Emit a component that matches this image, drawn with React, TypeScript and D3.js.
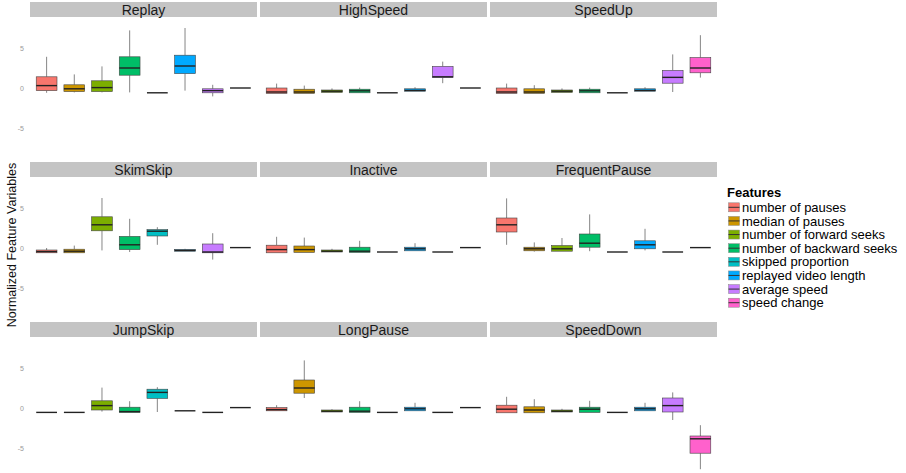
import React from "react";
import * as d3 from "d3";

const features = [
  "number of pauses",
  "median of pauses",
  "number of forward seeks",
  "number of backward seeks",
  "skipped proportion",
  "replayed video length",
  "average speed",
  "speed change",
];
const colors = ["#F8766D", "#CD9600", "#7CAE00", "#00BE67", "#00BFC4", "#00A9FF", "#C77CFF", "#FF61CC"];
const panels = ["Replay", "HighSpeed", "SpeedUp", "SkimSkip", "Inactive", "FrequentPause", "JumpSkip", "LongPause", "SpeedDown"];
const yTicks = [-5, 0, 5];

// [low, q1, median, q3, high]
const replay = [
  [-0.6, -0.33, 0.3, 1.4, 3.9], [-0.55, -0.45, -0.1, 0.4, 1.7], [-0.55, -0.45, 0.05, 0.9, 2.7], [-0.55, 1.6, 2.5, 3.9, 7.2],
  [-0.6, -0.6, -0.6, -0.6, -0.6], [-0.33, 1.8, 2.75, 4.1, 7.5], [-1.05, -0.6, -0.33, -0.1, 0.4], [0, 0, 0, 0, 0],
];
const highSpeed = [
  [-0.67, -0.67, -0.5, 0, 0.55], [-0.67, -0.67, -0.5, -0.15, 0.3], [-0.55, -0.55, -0.4, -0.25, -0.05], [-0.6, -0.6, -0.35, -0.15, 0.05],
  [-0.6, -0.6, -0.6, -0.6, -0.6], [-0.4, -0.4, -0.3, -0.1, 0.1], [0.6, 1.3, 1.4, 2.7, 3.3], [0, 0, 0, 0, 0],
];
const speedUp = [
  [-0.67, -0.67, -0.5, 0, 0.55], [-0.67, -0.67, -0.5, -0.1, 0.35], [-0.55, -0.55, -0.4, -0.25, -0.05], [-0.6, -0.6, -0.35, -0.15, 0.05],
  [-0.6, -0.6, -0.6, -0.6, -0.6], [-0.4, -0.4, -0.3, -0.1, 0.1], [-0.5, 0.6, 1.33, 2.2, 4.2], [1.3, 1.9, 2.5, 3.8, 6.6],
];
const skimSkip = [
  [-0.6, -0.6, -0.45, -0.25, 0], [-0.6, -0.6, -0.4, -0.15, 0.3], [-0.3, 2.15, 2.9, 3.9, 6.25], [-0.5, -0.2, 0.4, 1.45, 3.65],
  [0.4, 1.5, 2.1, 2.3, 2.6], [-0.4, -0.4, -0.3, -0.2, -0.1], [-1.45, -0.6, -0.5, 0.5, 1.85], [0.05, 0.05, 0.05, 0.05, 0.05],
];
const inactive = [
  [-0.6, -0.6, -0.2, 0.35, 1.4], [-0.55, -0.55, -0.2, 0.25, 1.3], [-0.5, -0.5, -0.4, -0.25, -0.1], [-0.55, -0.55, -0.4, 0.1, 0.9],
  [-0.5, -0.5, -0.5, -0.5, -0.5], [-0.35, -0.35, -0.1, 0.1, 0.6], [-0.5, -0.5, -0.5, -0.5, -0.5], [0.05, 0.05, 0.05, 0.05, 0.05],
];
const frequentPause = [
  [0.4, 2.0, 2.9, 3.75, 6.2], [-0.45, -0.35, -0.1, 0.1, 0.7], [-0.4, -0.4, -0.1, 0.3, 1.25], [-0.4, 0.1, 0.6, 1.75, 4.2],
  [-0.5, -0.5, -0.5, -0.5, -0.5], [-0.3, -0.1, 0.4, 0.9, 2.4], [-0.5, -0.5, -0.5, -0.5, -0.5], [0.05, 0.05, 0.05, 0.05, 0.05],
];
const jumpSkip = [
  [-0.55, -0.55, -0.55, -0.55, -0.55], [-0.55, -0.55, -0.55, -0.55, -0.55], [-0.45, -0.25, 0.3, 0.9, 2.55], [-0.55, -0.55, -0.45, 0.1, 0.85],
  [-0.5, 1.2, 1.95, 2.35, 2.6], [-0.35, -0.35, -0.35, -0.35, -0.35], [-0.55, -0.55, -0.55, -0.55, -0.55], [0.05, 0.05, 0.05, 0.05, 0.05],
];
const longPause = [
  [-0.35, -0.35, -0.2, 0.05, 0.35], [1.25, 1.85, 2.5, 3.5, 5.95], [-0.5, -0.5, -0.4, -0.25, -0.15], [-0.55, -0.55, -0.4, 0.1, 0.85],
  [-0.55, -0.55, -0.55, -0.55, -0.55], [-0.35, -0.35, -0.1, 0.1, 0.65], [-0.55, -0.55, -0.55, -0.55, -0.55], [0.05, 0.05, 0.05, 0.05, 0.05],
];
const speedDown = [
  [-0.6, -0.6, -0.15, 0.35, 1.4], [-0.6, -0.6, -0.25, 0.15, 1.1], [-0.5, -0.5, -0.4, -0.25, -0.1], [-0.55, -0.55, -0.15, 0.1, 0.9],
  [-0.55, -0.55, -0.55, -0.55, -0.55], [-0.35, -0.35, -0.1, 0.1, 0.65], [-1.5, -0.5, 0.3, 1.25, 1.95], [-7.65, -5.65, -3.85, -3.5, -2.15],
];
const panelData = [replay, highSpeed, speedUp, skimSkip, inactive, frequentPause, jumpSkip, longPause, speedDown];

const W = 906;
const H = 473;
const panelLeft = 30;
const panelW = 227;
const colGap = 3;
const rowPitch = 160;
const stripTop = 2;
const stripH = 15;
const panelH = 138;
const font = "'Liberation Sans', Arial, sans-serif";

export default function App() {
  const x = d3.scaleLinear().domain([0.4, 8.6]).range([0, panelW]);
  const y = d3.scaleLinear().domain([-8.375, 8.875]).range([panelH, 0]);
  const bw = (x(1.75) - x(1)) ;

  return (
    <svg width={W} height={H} style={{ display: "block", position: "absolute", left: 0, top: 0, background: "#fff" }} fontFamily={font}>
      {panels.map((name, p) => {
        const col = p % 3;
        const row = Math.floor(p / 3);
        const px = panelLeft + col * (panelW + colGap);
        const sy = stripTop + row * rowPitch;
        const py = sy + stripH;
        const data = panelData[p];
        return (
          <g key={name}>
            <rect x={px} y={sy} width={panelW} height={stripH} fill="#C4C4C4" />
            <text x={px + panelW / 2} y={sy + stripH / 2 + 5} textAnchor="middle" fontSize={14} fill="#1a1a1a">{name}</text>
            <g transform={`translate(${px},${py})`}>
              {data.map((d, i) => {
                const [lo, q1, med, q3, hi] = d;
                const cx = x(i + 1);
                return (
                  <g key={i}>
                    <line x1={cx} x2={cx} y1={y(hi)} y2={y(q3)} stroke="#666" strokeWidth={0.8} />
                    <line x1={cx} x2={cx} y1={y(q1)} y2={y(lo)} stroke="#666" strokeWidth={0.8} />
                    <rect x={cx - bw / 2} y={y(q3)} width={bw} height={Math.max(0, y(q1) - y(q3))} fill={colors[i]} stroke="#444" strokeWidth={0.6} />
                    <line x1={cx - bw / 2} x2={cx + bw / 2} y1={y(med)} y2={y(med)} stroke="#222" strokeWidth={1.4} />
                  </g>
                );
              })}
            </g>
            {col === 0 && yTicks.map((t) => (
              <text key={t} x={24} y={py + y(t) + 2.5} textAnchor="end" fontSize={7} fill="#999">{t}</text>
            ))}
          </g>
        );
      })}
      <text transform={`translate(16,245) rotate(-90)`} textAnchor="middle" fontSize={12.5} fill="#111">Normalized Feature Variables</text>
      <text x={727} y={197} fontSize={13} fontWeight="bold" fill="#000">Features</text>
      {features.map((f, i) => {
        const cy = 207.3 + i * 13.63;
        return (
          <g key={f}>
            <rect x={728.5} y={cy - 4.5} width={11} height={9} fill={colors[i]} stroke="#888" strokeWidth={0.5} />
            <line x1={728.5} x2={739.5} y1={cy} y2={cy} stroke="#333" strokeWidth={1} />
            <text x={742} y={cy + 4.6} fontSize={13} fill="#000">{f}</text>
          </g>
        );
      })}
    </svg>
  );
}
